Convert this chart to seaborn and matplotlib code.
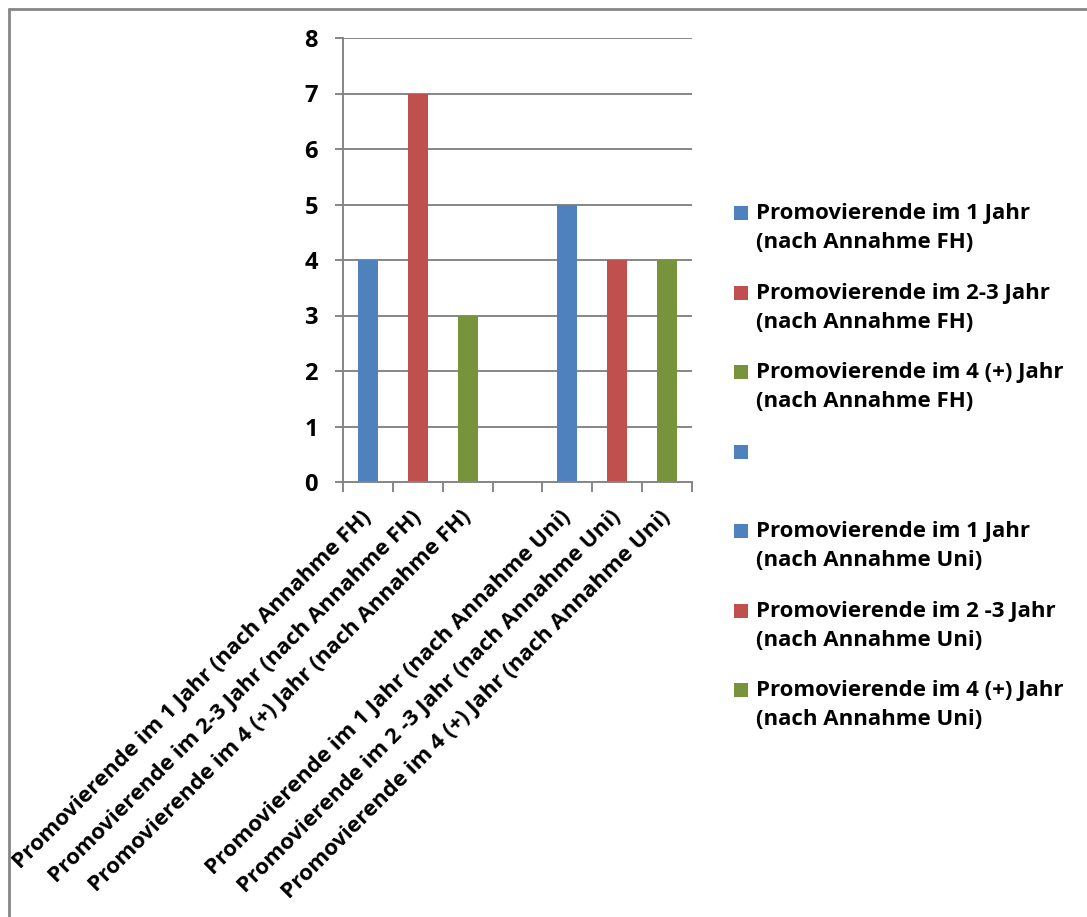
import matplotlib
matplotlib.use("Agg")
import matplotlib.pyplot as plt
import seaborn as sns
import pandas as pd
import numpy as np
from matplotlib.patches import Rectangle
from matplotlib.lines import Line2D

categories = [
    "Promovierende im 1 Jahr (nach Annahme FH)",
    "Promovierende im 2-3 Jahr (nach Annahme FH)",
    "Promovierende im 4 (+) Jahr (nach Annahme FH)",
    "",
    "Promovierende im 1 Jahr (nach Annahme Uni)",
    "Promovierende im 2 -3 Jahr (nach Annahme Uni)",
    "Promovierende im 4 (+) Jahr (nach Annahme Uni)",
]
values = [4, 7, 3, np.nan, 5, 4, 4]
legend_labels = [
    "Promovierende im 1 Jahr\n(nach Annahme FH)",
    "Promovierende im 2-3 Jahr\n(nach Annahme FH)",
    "Promovierende im 4 (+) Jahr\n(nach Annahme FH)",
    "",
    "Promovierende im 1 Jahr\n(nach Annahme Uni)",
    "Promovierende im 2 -3 Jahr\n(nach Annahme Uni)",
    "Promovierende im 4 (+) Jahr\n(nach Annahme Uni)",
]
colors = ["#4F81BD", "#C0504D", "#77933C", "#4F81BD", "#4F81BD", "#C0504D", "#77933C"]
y_ticks = [0, 1, 2, 3, 4, 5, 6, 7, 8]

sns.set_theme(style="white")
plt.rcParams["font.family"] = ["Open Sans", "DejaVu Sans"]
plt.rcParams["font.weight"] = "bold"
plt.rcParams["text.color"] = "black"
plt.rcParams["xtick.labelcolor"] = "black"
plt.rcParams["ytick.labelcolor"] = "black"

W, H = 1087, 917
FS = 16
fig = plt.figure(figsize=(W / 100, H / 100), dpi=100)
ax = fig.add_axes([343 / W, 1 - 482 / H, (692 - 343) / W, (482 - 38) / H])

df = pd.DataFrame({"cat": categories, "val": values})
palette = {c: col for c, col in zip(categories, colors)}
sns.barplot(data=df, x="cat", y="val", hue="cat", order=categories,
            hue_order=categories, palette=palette, width=0.4,
            saturation=1, legend=False, ax=ax, errorbar=None, linewidth=0)

grey = "#868686"
ax.set_ylim(0, 8)
ax.set_xlim(-0.5, len(categories) - 0.5)
ax.set_yticks(y_ticks)
ax.yaxis.grid(True, color=grey, linewidth=1.4)
ax.set_axisbelow(True)
for s in ["top", "right"]:
    ax.spines[s].set_visible(False)
for s in ["left", "bottom"]:
    ax.spines[s].set_color(grey)
    ax.spines[s].set_linewidth(1.4)
ax.set_xlabel("")
ax.set_ylabel("")

ax.tick_params(axis="y", left=True, length=6, width=1.4, color=grey, pad=12,
               labelsize=17, labelcolor="black")
for t in ax.get_yticklabels():
    t.set_fontweight("bold")

ax.set_xticks(np.arange(len(categories)))
ax.set_xticks(np.arange(-0.5, len(categories), 1.0), minor=True)
ax.tick_params(axis="x", which="major", length=0, pad=23, labelsize=FS,
               labelcolor="black")
ax.tick_params(axis="x", which="minor", bottom=True, length=7, width=1.4, color=grey)
ax.set_xticklabels(categories, rotation=45, ha="right", va="center",
                   rotation_mode="anchor", fontweight="bold", color="black")

# legend drawn manually
leg_x_sq = 734
leg_x_txt = 756
first_y = 213
step = 79.5
for i, (lab, col) in enumerate(zip(legend_labels, colors)):
    yc = first_y + i * step
    fig.patches.append(Rectangle((leg_x_sq / W, 1 - (yc + 7) / H), 14 / W, 14 / H,
                                 transform=fig.transFigure, facecolor=col,
                                 edgecolor="none"))
    if lab:
        fig.text(leg_x_txt / W, 1 - (yc - 10) / H, lab, ha="left", va="top",
                 fontsize=FS, fontweight="bold", linespacing=1.5, color="black")

# outer chart border (top and left visible)
fig.add_artist(Line2D([9 / W, 1.0], [1 - 9 / H, 1 - 9 / H], transform=fig.transFigure,
                      color=grey, linewidth=2))
fig.add_artist(Line2D([9 / W, 9 / W], [0.0, 1 - 9 / H], transform=fig.transFigure,
                      color=grey, linewidth=2))

fig.savefig("out.png", dpi=100)
